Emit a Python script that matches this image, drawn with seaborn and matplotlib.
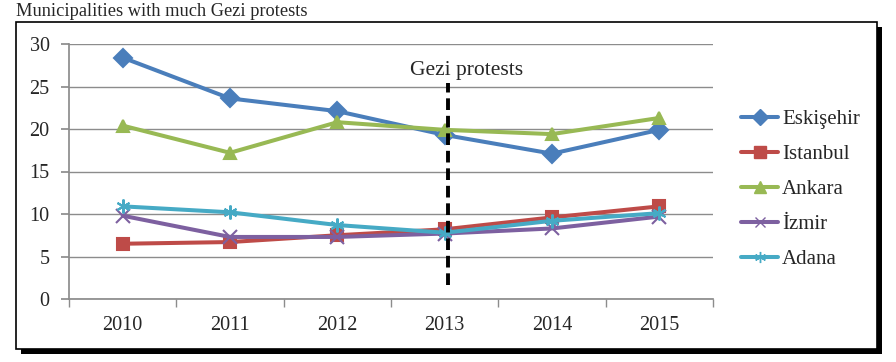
import matplotlib
matplotlib.use("Agg")
import matplotlib.pyplot as plt
import seaborn as sns
import pandas as pd
from matplotlib.patches import Rectangle
from matplotlib.lines import Line2D

years = ["2010", "2011", "2012", "2013", "2014", "2015"]
eskisehir = [28.4, 23.6, 22.1, 19.3, 17.1, 19.9]
istanbul = [6.5, 6.7, 7.5, 8.2, 9.6, 10.9]
ankara = [20.4, 17.2, 20.8, 19.9, 19.4, 21.3]
izmir = [9.8, 7.3, 7.3, 7.7, 8.3, 9.7]
adana = [10.9, 10.2, 8.7, 7.8, 9.2, 10.1]
names = ["Eskişehir", "Istanbul", "Ankara", "İzmir", "Adana"]
series = [eskisehir, istanbul, ankara, izmir, adana]
yticks = [0, 5, 10, 15, 20, 25, 30]

colors = ["#4A7EBB", "#BE4B48", "#98B954", "#7D60A0", "#46AAC5"]
markers = ["D", "s", "^", "x", (6, 2, 0)]

sns.set_theme(style="white")
plt.rcParams["font.family"] = ["Liberation Serif", "DejaVu Serif"]

fig = plt.figure(figsize=(8.96, 3.62), dpi=100)
W, H = 896, 362
# outer box with shadow
fig.patches.append(Rectangle((21 / W, 1 - 354 / H), 861 / W, 327 / H, transform=fig.transFigure,
                             facecolor="black", edgecolor="none", zorder=-2))
fig.patches.append(Rectangle((16 / W, 1 - 349 / H), 861 / W, 327 / H, transform=fig.transFigure,
                             facecolor="white", edgecolor="black", linewidth=1.2, zorder=-1))
fig.text(16 / W, 1 - 11 / H, "Municipalities with much Gezi protests", fontsize=13.2,
         va="center", ha="left")

ax = fig.add_axes([69 / W, 1 - 299 / H, (713 - 69) / W, (299 - 44) / H])
ax.set_zorder(2)
ax.set_facecolor("none")
for n, s, c, m in zip(names, series, colors, markers):
    d = pd.DataFrame({"x": list(range(len(years))), "value": s})
    sns.lineplot(data=d, x="x", y="value", color=c, marker=m, linewidth=2.9,
                 markersize=9 if m not in ("x", (6, 2, 0)) else 10,
                 markeredgewidth=1.5, markerfacecolor=c, markeredgecolor=c, ax=ax)

ax.set_xlim(-0.5, 5.5)
ax.set_ylim(0, 30)
ax.set_yticks(yticks)
ax.set_yticklabels([str(t) for t in yticks], fontsize=14.5)
ax.set_xticks(range(len(years)))
ax.set_xticklabels(years, fontsize=14.5)
ax.set_xlabel("")
ax.set_ylabel("")
ax.grid(axis="y", color="#8C8C8C", linewidth=1)
ax.set_axisbelow(True)
for sp in ["top", "right"]:
    ax.spines[sp].set_visible(False)
ax.spines["left"].set_color("#8C8C8C")
ax.spines["bottom"].set_color("#8C8C8C")
ax.tick_params(axis="y", length=6, color="#8C8C8C", left=True, pad=8)
ax.tick_params(axis="x", length=0, pad=12)
ax.set_xticks([i - 0.5 for i in range(len(years) + 1)], minor=True)
ax.tick_params(axis="x", which="minor", length=6, color="#8C8C8C", bottom=True)

ax.plot([3.03, 3.03], [1.6, 25.4], color="black", linestyle=(0, (3, 1.5)), linewidth=2.8, zorder=5)
ax.text(3.2, 26.9, "Gezi protests", fontsize=15.5, ha="center", va="center")

handles = [Line2D([], [], color=c, marker=m, linewidth=2.9, markersize=8 if m != "x" else 7,
                  markerfacecolor=c, markeredgecolor=c, markeredgewidth=1)
           for c, m in zip(colors, markers)]
leg = fig.legend(handles, names, loc="upper left", bbox_to_anchor=(733 / W, 1 - 101 / H),
                 frameon=False, fontsize=15, handlelength=1.75, handletextpad=0.2,
                 labelspacing=0.74, borderaxespad=0)
leg.set_zorder(3)

fig.savefig("out.png", dpi=100)
